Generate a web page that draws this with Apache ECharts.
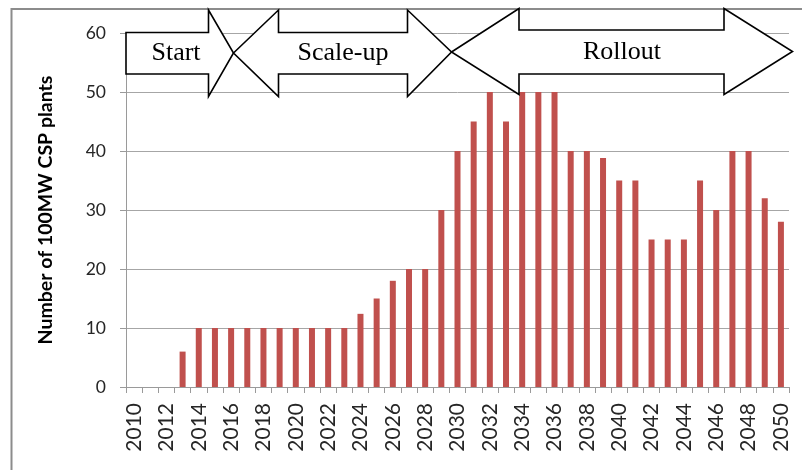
<!DOCTYPE html>
<html>
<head>
<meta charset="utf-8">
<script src="https://cdn.jsdelivr.net/npm/echarts@6/dist/echarts.min.js"></script>
<style>
  html, body { margin: 0; padding: 0; background: #fff; }
  #chart { width: 802px; height: 470px; }
</style>
</head>
<body>
<div id="chart"></div>
<script>
// Years 2010-2050
const years = [];
for (let y = 2010; y <= 2050; y++) years.push(String(y));

// New 100MW CSP plants per year
const plants = [
  0, 0, 0, 6, 10, 10, 10, 10, 10, 10,
  10, 10, 10, 10, 12.4, 15, 18, 20, 20, 30,
  40, 45, 50, 45, 50, 50, 50, 40, 40, 38.8,
  35, 35, 25, 25, 25, 35, 30, 40, 40, 32,
  28
];

const yTicks = { min: 0, max: 60, interval: 10 };
const phases = ['Start', 'Scale-up', 'Rollout'];

const arrowStyle = { fill: '#fff', stroke: '#000', lineWidth: 1.6, lineJoin: 'miter' };
const phaseFont = '26px "Liberation Serif", "DejaVu Serif", serif';
const sans = 'Lato, "Open Sans", sans-serif';

const chart = echarts.init(document.getElementById('chart'), null, { renderer: 'canvas' });

chart.setOption({
  animation: false,
  backgroundColor: '#fff',
  grid: { left: 126, right: 13, top: 33, bottom: 83, containLabel: false },
  xAxis: {
    type: 'category',
    data: years,
    boundaryGap: true,
    axisLine: { show: true, lineStyle: { color: '#9a9a9a', width: 1 } },
    axisTick: { show: true, interval: 0, alignWithLabel: false, length: 6, lineStyle: { color: '#9a9a9a' } },
    axisLabel: {
      interval: 1, rotate: 90, margin: 16,
      fontFamily: sans, fontSize: 21, color: '#262626'
    },
    splitLine: { show: false }
  },
  yAxis: {
    type: 'value',
    min: yTicks.min, max: yTicks.max, interval: yTicks.interval,
    name: 'Number of 100MW CSP plants',
    nameLocation: 'middle',
    nameGap: 70,
    nameRotate: 90,
    nameTextStyle: { fontFamily: sans, fontWeight: 'bold', fontSize: 19.5, color: '#000' },
    axisLine: { show: true, lineStyle: { color: '#9a9a9a', width: 1 } },
    axisTick: { show: true, length: 6, lineStyle: { color: '#9a9a9a' } },
    axisLabel: { margin: 20, fontFamily: sans, fontSize: 17.5, color: '#262626' },
    splitLine: { show: true, lineStyle: { color: '#a6a6a6', width: 1 } }
  },
  series: [{
    type: 'bar',
    data: plants,
    barWidth: 6,
    itemStyle: { color: '#C0504D' },
    z: 2
  }],
  graphic: [
    // outer frame (left and top edges)
    { type: 'polyline', z: 1, shape: { points: [[11.5, 470], [11.5, 9], [802, 9]] },
      style: { stroke: '#8c8c8c', lineWidth: 2, fill: null } },
    // Start
    { type: 'polygon', z: 100,
      shape: { points: [[126, 32.5], [208.5, 32.5], [208.5, 10], [233.5, 53], [208.5, 96.5], [208.5, 74], [126, 74]] },
      style: arrowStyle },
    // Scale-up
    { type: 'polygon', z: 100,
      shape: { points: [[233.5, 53], [278.5, 10], [278.5, 32.5], [407.5, 32.5], [407.5, 10], [451.5, 52],
                        [407.5, 96.5], [407.5, 74], [278.5, 74], [278.5, 96.5]] },
      style: arrowStyle },
    // Rollout
    { type: 'polygon', z: 100,
      shape: { points: [[451.5, 52], [519, 8.5], [519, 30], [724, 30], [724, 8.5], [792.5, 51.5],
                        [724, 94.5], [724, 74], [519, 74], [519, 94.5]] },
      style: arrowStyle },
    { type: 'text', z: 101, x: 176, y: 53,
      style: { text: phases[0], font: phaseFont, fill: '#000', textAlign: 'center', textVerticalAlign: 'middle' } },
    { type: 'text', z: 101, x: 343, y: 53,
      style: { text: phases[1], font: phaseFont, fill: '#000', textAlign: 'center', textVerticalAlign: 'middle' } },
    { type: 'text', z: 101, x: 622, y: 52,
      style: { text: phases[2], font: phaseFont, fill: '#000', textAlign: 'center', textVerticalAlign: 'middle' } }
  ]
});
</script>
</body>
</html>
